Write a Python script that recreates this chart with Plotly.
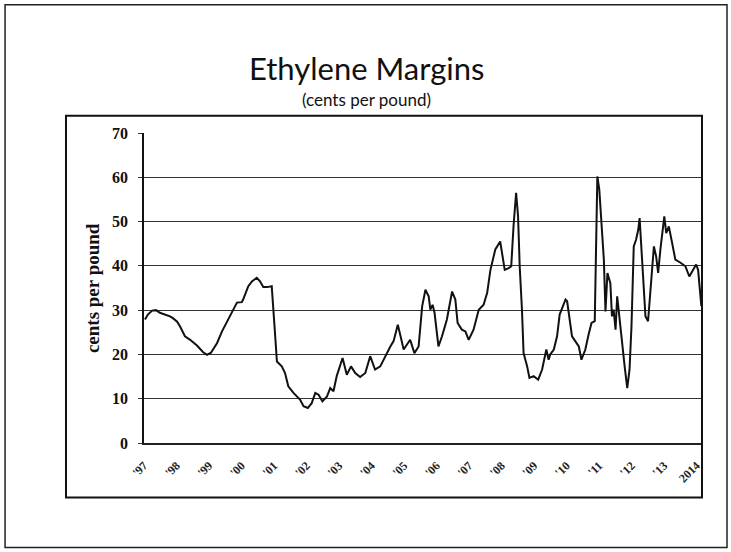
import plotly.graph_objects as go

# Decimal years and ethylene margin values (cents per pound)
years = [
    1997.03, 1997.12, 1997.25, 1997.37, 1997.49, 1997.65, 1997.80, 1997.89,
    1998.02, 1998.11, 1998.26, 1998.42, 1998.63, 1998.82, 1998.94,
    1999.06, 1999.25, 1999.40, 1999.59, 1999.74, 1999.86,
    2000.01, 2000.05, 2000.21, 2000.32, 2000.47, 2000.57, 2000.67, 2000.79, 2000.93, 2000.98,
    2001.03, 2001.09, 2001.24, 2001.34, 2001.44, 2001.60, 2001.80, 2001.91,
    2002.04, 2002.16, 2002.27, 2002.37, 2002.49, 2002.63, 2002.73, 2002.83, 2002.93,
    2003.11, 2003.24, 2003.37, 2003.50, 2003.65, 2003.81, 2003.96,
    2004.11, 2004.27, 2004.42, 2004.58, 2004.68, 2004.81, 2004.92, 2004.99,
    2005.19, 2005.32, 2005.45, 2005.56, 2005.66, 2005.76, 2005.81, 2005.88, 2005.94,
    2006.06, 2006.17, 2006.32, 2006.48, 2006.58, 2006.65, 2006.78, 2006.89, 2006.99,
    2007.14, 2007.30, 2007.45, 2007.56, 2007.66, 2007.81, 2007.96,
    2008.04, 2008.10, 2008.22, 2008.30, 2008.37, 2008.45, 2008.51, 2008.56, 2008.63, 2008.68,
    2008.79, 2008.86, 2008.99,
    2009.13, 2009.25, 2009.33, 2009.38, 2009.45, 2009.50, 2009.61, 2009.71, 2009.79, 2009.88, 2009.97,
    2010.02, 2010.09, 2010.17, 2010.27, 2010.38, 2010.46, 2010.58, 2010.68, 2010.77, 2010.87, 2010.92, 2010.95,
    2011.01, 2011.07, 2011.15, 2011.20, 2011.26, 2011.35, 2011.40, 2011.45, 2011.51, 2011.56, 2011.61,
    2011.71, 2011.79, 2011.87, 2011.94,
    2012.00, 2012.07, 2012.14, 2012.21, 2012.25, 2012.29, 2012.35, 2012.43, 2012.51, 2012.61, 2012.69,
    2012.76, 2012.82, 2012.89, 2012.94,
    2013.01, 2013.07, 2013.15, 2013.25, 2013.35, 2013.51, 2013.66, 2013.78, 2013.89, 2013.99,
    2014.05, 2014.10, 2014.15,
]
margins = [
    27.9, 29.0, 29.9, 30.0, 29.4, 29.0, 28.6, 28.2,
    27.4, 26.3, 24.1, 23.3, 22.0, 20.5, 19.9,
    20.4, 22.6, 25.2, 27.9, 30.1, 31.7,
    31.8, 32.4, 35.4, 36.5, 37.3, 36.5, 35.2, 35.2, 35.4, 30.9,
    24.9, 18.4, 17.3, 15.8, 12.8, 11.3, 9.8, 8.3,
    7.9, 9.0, 11.3, 10.9, 9.4, 10.5, 12.4, 11.7, 15.1,
    19.2, 15.4, 17.3, 15.8, 14.9, 15.8, 19.6,
    16.6, 17.3, 19.6, 21.8, 23.0, 26.7, 23.3, 21.1,
    23.3, 20.3, 21.8, 30.9, 34.6, 33.1, 30.1, 31.2, 29.4,
    21.8, 24.1, 27.9, 34.2, 32.4, 27.1, 25.6, 25.2, 23.3,
    25.6, 30.1, 31.2, 33.9, 39.1, 43.7, 45.5,
    42.1, 39.1, 39.5, 39.9, 48.9, 56.5, 51.2, 40.0, 30.1, 20.3,
    17.3, 14.7, 15.1,
    14.3, 16.6, 19.6, 21.1, 18.8, 20.0, 21.1, 24.1, 29.0, 30.5, 32.4,
    32.0, 28.6, 24.1, 23.0, 21.8, 18.8, 21.1, 24.5, 27.1, 27.5, 51.2, 60.2,
    57.2, 49.7, 41.4, 29.7, 38.4, 36.1, 28.6, 30.1, 25.6, 33.1, 29.4,
    22.6, 17.3, 12.4, 16.6,
    26.3, 44.4, 45.9, 48.2, 50.8, 45.9, 36.1, 28.6, 27.5, 37.6, 44.4,
    42.1, 38.4, 43.7, 47.4,
    51.2, 47.4, 48.9, 45.2, 41.4, 40.7, 39.9, 37.6, 39.1, 40.3,
    39.1, 34.6, 30.9,
]

tick_years = list(range(1997, 2015))
tick_labels = ["'97", "'98", "'99", "'00", "'01", "'02", "'03", "'04", "'05",
               "'06", "'07", "'08", "'09", "'10", "'11", "'12", "'13", "2014"]
y_ticks = [0, 10, 20, 30, 40, 50, 60, 70]

fig = go.Figure()
fig.add_trace(go.Scatter(
    x=years, y=margins, mode="lines",
    line=dict(color="#111111", width=2),
    showlegend=False, hoverinfo="skip",
))

serif = "Liberation Serif, Times New Roman, serif"

fig.update_layout(
    width=731, height=552,
    margin=dict(l=144, r=29, t=133, b=109),
    paper_bgcolor="white", plot_bgcolor="white",
    xaxis=dict(
        range=[1997.0, 2014.17],
        tickvals=tick_years, ticktext=tick_labels,
        tickangle=-45,
        tickfont=dict(family=serif, size=12, color="#222", weight="bold"),
        showgrid=False, zeroline=False,
        showline=True, linecolor="#222", linewidth=1.5,
        ticks="", ticklabelstandoff=9,
    ),
    yaxis=dict(
        range=[0, 70],
        tickvals=y_ticks,
        tickfont=dict(family=serif, size=16, color="#111", weight="bold"),
        showgrid=True, gridcolor="#333", gridwidth=1,
        zeroline=False,
        showline=True, linecolor="#111", linewidth=1.5,
        ticks="outside", ticklen=4, tickcolor="#333",
        ticklabelstandoff=7,
    ),
    shapes=[
        # outer slide frame
        dict(type="rect", xref="paper", yref="paper",
             x0=-0.249, x1=1.0448, y0=-0.3373, y1=1.4137,
             line=dict(color="#222", width=1.5)),
        # chart box
        dict(type="rect", xref="paper", yref="paper",
             x0=-0.1398, x1=1.0, y0=-0.176, y1=1.0558,
             line=dict(color="#111", width=2)),
    ],
    annotations=[
        dict(text="Ethylene Margins", xref="paper", yref="paper",
             x=0.398, y=1.2106, showarrow=False, xanchor="center", yanchor="middle",
             font=dict(family="Lato, Open Sans, sans-serif", size=31, color="#111")),
        dict(text="(cents per pound)", xref="paper", yref="paper",
             x=0.398, y=1.107, showarrow=False, xanchor="center", yanchor="middle",
             font=dict(family="Lato, Open Sans, sans-serif", size=17, color="#111")),
        dict(text="<b>cents per pound</b>", xref="paper", yref="paper",
             x=-0.093, y=0.5, showarrow=False, textangle=-90,
             xanchor="center", yanchor="middle",
             font=dict(family=serif, size=19, color="#111")),
    ],
)

fig.write_html("out.html", config={"displayModeBar": False},
               post_script="document.body.style.margin='0';")
